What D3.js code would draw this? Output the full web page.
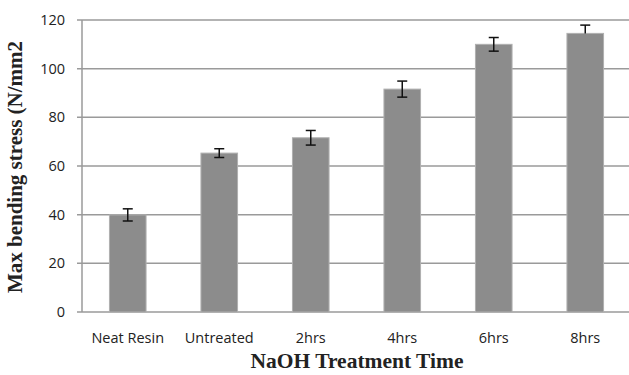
<!DOCTYPE html>
<html>
<head>
<meta charset="utf-8">
<script src="https://cdn.jsdelivr.net/npm/d3@7"></script>
<style>
  body { margin: 0; background: #fff; }
</style>
</head>
<body>
<div id="chart"></div>
<script>
// chart data
var categories = ["Neat Resin", "Untreated", "2hrs", "4hrs", "6hrs", "8hrs"];
var stress = [39.9, 65.3, 71.6, 91.6, 110, 114.5];
var errPlus = [2.5, 1.8, 3, 3.3, 2.8, 3.4];
var errMinus = [2.5, 1.8, 3, 3.3, 2.8, 0];
var yTicks = [0, 20, 40, 60, 80, 100, 120];

var margin = {top: 20, right: -2, bottom: 63, left: 82},
    width = 629 - margin.left - margin.right,
    height = 375 - margin.top - margin.bottom;

var svg = d3.select("#chart")
  .append("svg")
  .attr("width", 629)
  .attr("height", 375)
  .append("g")
  .attr("transform", "translate(" + margin.left + "," + margin.top + ")");

var x = d3.scaleBand().domain(categories).range([0, width]).paddingInner(0.6).paddingOuter(0.3);
var y = d3.scaleLinear().domain([0, 120]).range([height, 0]);

// gridlines
svg.selectAll("line.grid")
  .data(yTicks)
  .enter()
  .append("line")
    .attr("x1", -5)
    .attr("x2", width)
    .attr("y1", function(d){ return y(d) })
    .attr("y2", function(d){ return y(d) })
    .style("stroke", "#9a9a9a")
    .style("stroke-width", 1.5)

// y axis line
svg.append("line")
  .attr("x1", 0).attr("x2", 0)
  .attr("y1", 0).attr("y2", height)
  .style("stroke", "#9a9a9a")
  .style("stroke-width", 1.5)

// y tick labels
svg.selectAll("text.ytick")
  .data(yTicks)
  .enter()
  .append("text")
    .attr("x", -17)
    .attr("y", function(d){ return y(d) + 5 })
    .attr("text-anchor", "end")
    .attr("font-family", "Open Sans, sans-serif")
    .attr("font-size", "14.5px")
    .attr("fill", "#222")
    .text(function(d){ return d })

// bars
svg.selectAll("rect")
  .data(stress)
  .enter()
  .append("rect")
    .attr("x", function(d, i){ return x(categories[i]) })
    .attr("y", function(d){ return y(d) })
    .attr("width", x.bandwidth())
    .attr("height", function(d){ return height - y(d) })
    .style("fill", "#8c8c8c")
    .style("stroke", "#b0b0b0")
    .style("stroke-width", 1)

// error bars
var errs = svg.selectAll("g.err")
  .data(stress)
  .enter()
  .append("g")
  .attr("transform", function(d, i){ return "translate(" + (x(categories[i]) + x.bandwidth() / 2) + ",0)" })

errs.append("line")
  .attr("x1", 0).attr("x2", 0)
  .attr("y1", function(d, i){ return y(d + errPlus[i]) })
  .attr("y2", function(d, i){ return y(d - errMinus[i]) })
  .style("stroke", "#111").style("stroke-width", 1.5)

errs.append("line")
  .attr("x1", -5).attr("x2", 5)
  .attr("y1", function(d, i){ return y(d + errPlus[i]) })
  .attr("y2", function(d, i){ return y(d + errPlus[i]) })
  .style("stroke", "#111").style("stroke-width", 1.5)

errs.filter(function(d, i){ return errMinus[i] > 0 })
  .append("line")
  .attr("x1", -5).attr("x2", 5)
  .attr("y1", function(d){ return y(d - errMinus[stress.indexOf(d)]) })
  .attr("y2", function(d){ return y(d - errMinus[stress.indexOf(d)]) })
  .style("stroke", "#111").style("stroke-width", 1.5)

// x labels
svg.selectAll("text.xtick")
  .data(categories)
  .enter()
  .append("text")
    .attr("x", function(d){ return x(d) + x.bandwidth() / 2 })
    .attr("y", height + 31)
    .attr("text-anchor", "middle")
    .attr("font-family", "Open Sans, sans-serif")
    .attr("font-size", "14.5px")
    .attr("fill", "#222")
    .text(function(d){ return d })

// axis titles
svg.append("text")
  .attr("x", 275)
  .attr("y", height + 56)
  .attr("text-anchor", "middle")
  .attr("font-family", "Liberation Serif, Times New Roman, serif")
  .attr("font-weight", "bold")
  .attr("font-size", "21.5px")
  .attr("fill", "#222")
  .text("NaOH Treatment Time")

svg.append("text")
  .attr("transform", "translate(-60,147) rotate(-90)")
  .attr("text-anchor", "middle")
  .attr("font-family", "Liberation Serif, Times New Roman, serif")
  .attr("font-weight", "bold")
  .attr("font-size", "21px")
  .attr("fill", "#222")
  .text("Max bending stress (N/mm2")
</script>
</body>
</html>
